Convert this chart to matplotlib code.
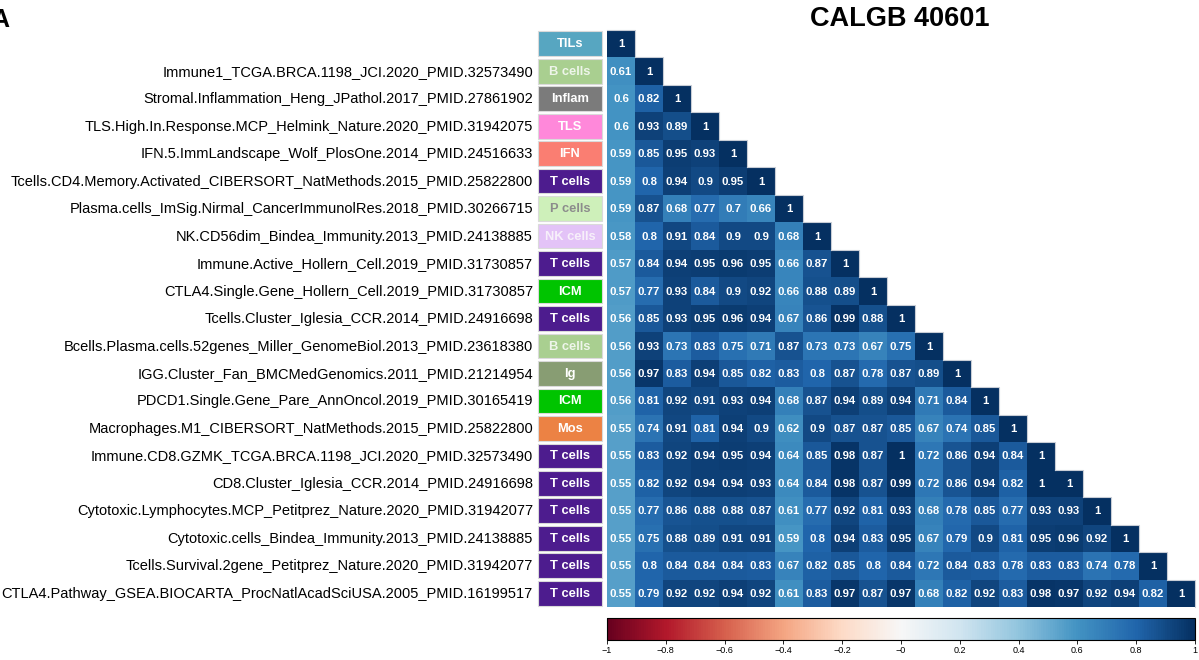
import numpy as np
import matplotlib
matplotlib.use('Agg')
import matplotlib.pyplot as plt
from matplotlib.patches import Rectangle

plt.rcParams['font.family'] = ['Liberation Sans', 'DejaVu Sans']

signatures = [
    'TILs',
    'Immune1_TCGA.BRCA.1198_JCI.2020_PMID.32573490',
    'Stromal.Inflammation_Heng_JPathol.2017_PMID.27861902',
    'TLS.High.In.Response.MCP_Helmink_Nature.2020_PMID.31942075',
    'IFN.5.ImmLandscape_Wolf_PlosOne.2014_PMID.24516633',
    'Tcells.CD4.Memory.Activated_CIBERSORT_NatMethods.2015_PMID.25822800',
    'Plasma.cells_ImSig.Nirmal_CancerImmunolRes.2018_PMID.30266715',
    'NK.CD56dim_Bindea_Immunity.2013_PMID.24138885',
    'Immune.Active_Hollern_Cell.2019_PMID.31730857',
    'CTLA4.Single.Gene_Hollern_Cell.2019_PMID.31730857',
    'Tcells.Cluster_Iglesia_CCR.2014_PMID.24916698',
    'Bcells.Plasma.cells.52genes_Miller_GenomeBiol.2013_PMID.23618380',
    'IGG.Cluster_Fan_BMCMedGenomics.2011_PMID.21214954',
    'PDCD1.Single.Gene_Pare_AnnOncol.2019_PMID.30165419',
    'Macrophages.M1_CIBERSORT_NatMethods.2015_PMID.25822800',
    'Immune.CD8.GZMK_TCGA.BRCA.1198_JCI.2020_PMID.32573490',
    'CD8.Cluster_Iglesia_CCR.2014_PMID.24916698',
    'Cytotoxic.Lymphocytes.MCP_Petitprez_Nature.2020_PMID.31942077',
    'Cytotoxic.cells_Bindea_Immunity.2013_PMID.24138885',
    'Tcells.Survival.2gene_Petitprez_Nature.2020_PMID.31942077',
    'CTLA4.Pathway_GSEA.BIOCARTA_ProcNatlAcadSciUSA.2005_PMID.16199517',
]

categories = ['TILs', 'B cells', 'Inflam', 'TLS', 'IFN', 'T cells', 'P cells',
              'NK cells', 'T cells', 'ICM', 'T cells', 'B cells', 'Ig', 'ICM',
              'Mos', 'T cells', 'T cells', 'T cells', 'T cells', 'T cells', 'T cells']

cat_colors = {
    'TILs': '#57A6C1', 'B cells': '#A9CF90', 'Inflam': '#7B7B7B', 'TLS': '#FF88DA',
    'IFN': '#FA7E72', 'T cells': '#4D1C8E', 'P cells': '#CEF0BA', 'NK cells': '#E3C3F7',
    'ICM': '#00C400', 'Ig': '#889D73', 'Mos': '#EC8244',
}
cat_text = {'P cells': '#8C8C8C', 'NK cells': '#F7F0FA', 'B cells': '#EEF5EA'}

# lower triangle of the correlation matrix, row by row
corr_rows = [
    [1],
    [0.61, 1],
    [0.6, 0.82, 1],
    [0.6, 0.93, 0.89, 1],
    [0.59, 0.85, 0.95, 0.93, 1],
    [0.59, 0.8, 0.94, 0.9, 0.95, 1],
    [0.59, 0.87, 0.68, 0.77, 0.7, 0.66, 1],
    [0.58, 0.8, 0.91, 0.84, 0.9, 0.9, 0.68, 1],
    [0.57, 0.84, 0.94, 0.95, 0.96, 0.95, 0.66, 0.87, 1],
    [0.57, 0.77, 0.93, 0.84, 0.9, 0.92, 0.66, 0.88, 0.89, 1],
    [0.56, 0.85, 0.93, 0.95, 0.96, 0.94, 0.67, 0.86, 0.99, 0.88, 1],
    [0.56, 0.93, 0.73, 0.83, 0.75, 0.71, 0.87, 0.73, 0.73, 0.67, 0.75, 1],
    [0.56, 0.97, 0.83, 0.94, 0.85, 0.82, 0.83, 0.8, 0.87, 0.78, 0.87, 0.89, 1],
    [0.56, 0.81, 0.92, 0.91, 0.93, 0.94, 0.68, 0.87, 0.94, 0.89, 0.94, 0.71, 0.84, 1],
    [0.55, 0.74, 0.91, 0.81, 0.94, 0.9, 0.62, 0.9, 0.87, 0.87, 0.85, 0.67, 0.74, 0.85, 1],
    [0.55, 0.83, 0.92, 0.94, 0.95, 0.94, 0.64, 0.85, 0.98, 0.87, 1, 0.72, 0.86, 0.94, 0.84, 1],
    [0.55, 0.82, 0.92, 0.94, 0.94, 0.93, 0.64, 0.84, 0.98, 0.87, 0.99, 0.72, 0.86, 0.94, 0.82, 1, 1],
    [0.55, 0.77, 0.86, 0.88, 0.88, 0.87, 0.61, 0.77, 0.92, 0.81, 0.93, 0.68, 0.78, 0.85, 0.77, 0.93, 0.93, 1],
    [0.55, 0.75, 0.88, 0.89, 0.91, 0.91, 0.59, 0.8, 0.94, 0.83, 0.95, 0.67, 0.79, 0.9, 0.81, 0.95, 0.96, 0.92, 1],
    [0.55, 0.8, 0.84, 0.84, 0.84, 0.83, 0.67, 0.82, 0.85, 0.8, 0.84, 0.72, 0.84, 0.83, 0.78, 0.83, 0.83, 0.74, 0.78, 1],
    [0.55, 0.79, 0.92, 0.92, 0.94, 0.92, 0.61, 0.83, 0.97, 0.87, 0.97, 0.68, 0.82, 0.92, 0.83, 0.98, 0.97, 0.92, 0.94, 0.82, 1],
]

n = len(corr_rows)
M = np.full((n, n), np.nan)
for i, row in enumerate(corr_rows):
    M[i, :len(row)] = row

W, H = 1199, 660
fig = plt.figure(figsize=(W / 100, H / 100), dpi=100)

def fig_rect(x0, y0, x1, y1):
    return [x0 / W, 1 - y1 / H, (x1 - x0) / W, (y1 - y0) / H]

ax = fig.add_axes(fig_rect(607, 30, 1195, 607))
mesh = ax.pcolormesh(np.arange(n + 1), np.arange(n + 1), np.ma.masked_invalid(M),
                     cmap='RdBu', vmin=-1, vmax=1)
ax.set_xlim(0, n)
ax.set_ylim(n, 0)
ax.axis('off')

for i in range(n):
    for j in range(i + 1):
        v = M[i, j]
        ax.text(j + 0.5, i + 0.52, f'{v:g}', ha='center', va='center',
                color='white', fontsize=8.2, fontweight='bold')
    # staircase outline
    ax.plot([i, i + 1, i + 1], [i, i, i + 1], color='#C8CDD6', lw=0.8,
            clip_on=False, zorder=3)

# category boxes and signature names
cell_w = 588 / n
bx0 = (538 - 607) / cell_w
bx1 = (602 - 607) / cell_w
for i, (name, cat) in enumerate(zip(signatures, categories)):
    ax.add_patch(Rectangle((bx0, i + 0.05), bx1 - bx0, 0.9, facecolor=cat_colors[cat],
                           edgecolor='#DADADA', lw=0.8, clip_on=False))
    ax.text((bx0 + bx1) / 2, i + 0.52, cat, ha='center', va='center',
            color=cat_text.get(cat, 'white'), fontsize=9.3, fontweight='bold')
    if i > 0:
        ax.text((533 - 607) / cell_w, i + 0.52, name, ha='right', va='center',
                color='black', fontsize=10.5)

fig.text(900 / W, 1 - 19 / H, 'CALGB 40601', ha='center', va='center',
         fontsize=19.5, fontweight='bold')
# panel letter sits partly past the left edge
fig.text(-9 / W, 1 - 20 / H, 'A', ha='left', va='center', fontsize=18,
         fontweight='bold')

# colour key
cax = fig.add_axes(fig_rect(607, 618, 1195, 640))
cb = fig.colorbar(mesh, cax=cax, orientation='horizontal')
ticks = np.round(np.arange(-1, 1.01, 0.2), 1)
cb.set_ticks(ticks)
cb.set_ticklabels([f'{t:g}'.replace('-', '\u2212') for t in ticks])
cax.tick_params(labelsize=6.5, length=3, width=0.6, pad=1.5)
cb.outline.set_linewidth(0.8)

fig.savefig('out.png', dpi=100)
